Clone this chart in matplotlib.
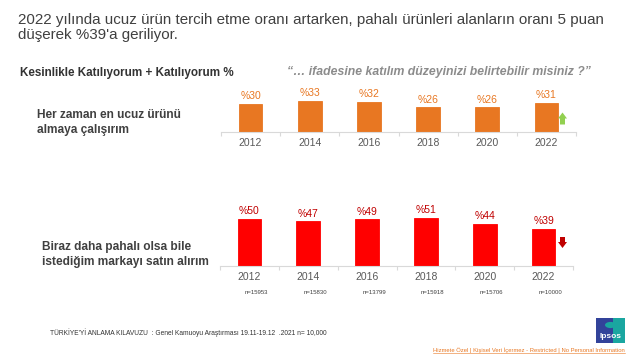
import matplotlib
matplotlib.use("Agg")
import matplotlib.pyplot as plt
from matplotlib.patches import Polygon, Rectangle, Circle
from matplotlib.lines import Line2D

plt.rcParams["font.family"] = ["Liberation Sans", "DejaVu Sans"]

# ---------- data ----------
yillar = ["2012", "2014", "2016", "2018", "2020", "2022"]
ucuz = [30, 33, 32, 26, 26, 31]
pahali = [50, 47, 49, 51, 44, 39]
n_etiket = ["n=15953", "n=15830", "n=13799", "n=15918", "n=15706", "n=10000"]

TURUNCU = "#E87722"
KIRMIZI = "#FF0000"
KOYU_KIRMIZI = "#C00000"
YESIL = "#92D050"
GRI_YAZI = "#404040"
GRI_CIZGI = "#D9D9D9"

W, H = 640, 360


def fx(px):
    return px / W


def fy(py):
    return 1 - py / H


fig = plt.figure(figsize=(6.4, 3.6), dpi=100)
fig.patch.set_facecolor("white")


def bar_panel(left, right, base, values, color, lab_color, lab_weight):
    ax = fig.add_axes([fx(left), fy(base), fx(right - left), 57 / H])
    x = list(range(len(values)))
    ax.bar(x, values, width=0.4, color=color, edgecolor=color, linewidth=0.6)
    for i, v in enumerate(values):
        ax.annotate(f"%{v}", (i, v), xytext=(0, 2), textcoords="offset points",
                    ha="center", va="bottom", fontsize=7.5, color=lab_color,
                    fontweight=lab_weight)
    ax.set_xlim(-0.5, len(values) - 0.5)
    ax.set_ylim(0, 60)
    ax.set_yticks([])
    ax.set_xticks(x)
    ax.set_xticklabels(yillar, fontsize=7.5, color="#595959")
    ax.tick_params(axis="x", which="major", length=0, pad=4)
    ax.set_xticks([i - 0.5 for i in range(len(values) + 1)], minor=True)
    ax.tick_params(axis="x", which="minor", length=3, color=GRI_CIZGI, width=0.8)
    for s in ["top", "left", "right"]:
        ax.spines[s].set_visible(False)
    ax.spines["bottom"].set_color(GRI_CIZGI)
    ax.spines["bottom"].set_linewidth(0.8)
    ax.set_facecolor("none")
    return ax


ax1 = bar_panel(221, 576, 132, ucuz, TURUNCU, TURUNCU, "normal")
ax2 = bar_panel(220, 573, 266, pahali, KIRMIZI, KOYU_KIRMIZI, "normal")

for i, t in enumerate(n_etiket):
    ax2.annotate(t, (i, 0), xycoords=("data", "axes fraction"), xytext=(5, -19),
                 textcoords="offset points", ha="center", va="center",
                 fontsize=4.3, color="#404040")

# ---------- title & headers ----------
fig.text(fx(18), fy(20), "2022 yılında ucuz ürün tercih etme oranı artarken, pahalı ürünleri alanların oranı 5 puan",
         fontsize=10.9, color=GRI_YAZI, va="center")
fig.text(fx(18), fy(35), "düşerek %39'a geriliyor.", fontsize=10.9, color=GRI_YAZI, va="center")
fig.text(fx(20), fy(73), "Kesinlikle Katılıyorum + Katılıyorum %", fontsize=8.4,
         fontweight="bold", color="#333333", va="center")
fig.text(fx(287), fy(72), "\u201c\u2026 ifadesine katılım düzeyinizi belirtebilir misiniz ?\u201d",
         fontsize=8.8, fontweight="bold", style="italic", color="#8C8C8C", va="center")

fig.text(fx(37), fy(115), "Her zaman en ucuz ürünü", fontsize=8.6, fontweight="bold",
         color=GRI_YAZI, va="center")
fig.text(fx(37), fy(130), "almaya çalışırım", fontsize=8.6, fontweight="bold",
         color=GRI_YAZI, va="center")
fig.text(fx(42), fy(247), "Biraz daha pahalı olsa bile", fontsize=8.6, fontweight="bold",
         color=GRI_YAZI, va="center")
fig.text(fx(42), fy(262), "istediğim markayı satın alırım", fontsize=8.6, fontweight="bold",
         color=GRI_YAZI, va="center")

# ---------- trend arrows ----------
up = [(558, 118.5), (562.5, 112.5), (567, 118.5), (565, 118.5), (565, 124.5),
      (560, 124.5), (560, 118.5)]
down = [(558, 242), (562.5, 248), (567, 242), (565, 242), (565, 237),
        (560, 237), (560, 242)]
fig.patches.append(Polygon([(fx(a), fy(b)) for a, b in up], closed=True,
                           transform=fig.transFigure, color=YESIL, lw=0))
fig.patches.append(Polygon([(fx(a), fy(b)) for a, b in down], closed=True,
                           transform=fig.transFigure, color=KOYU_KIRMIZI, lw=0))

# ---------- footer ----------
fig.text(fx(50), fy(333), "TÜRKİYE'Yİ ANLAMA KILAVUZU  : Genel Kamuoyu Araştırması 19.11-19.12  .2021 n= 10,000",
         fontsize=4.8, color="#333333", va="center")
alt = fig.text(fx(625), fy(350), "Hizmete Özel | Kişisel Veri İçermez - Restricted | No Personal Information",
               fontsize=4.2, color=TURUNCU, va="center", ha="right")
fig.canvas.draw()
bb = alt.get_window_extent(fig.canvas.get_renderer())
fig.lines.append(Line2D([bb.x0 / W, bb.x1 / W], [(bb.y0 + 0.3) / H] * 2,
                        transform=fig.transFigure, color=TURUNCU, lw=0.4))

# Ipsos logo
fig.patches.append(Rectangle((fx(596), fy(343)), fx(29), 25 / H, transform=fig.transFigure,
                             color="#32439A", lw=0))
fig.patches.append(Rectangle((fx(613), fy(343)), fx(12), 25 / H, transform=fig.transFigure,
                             color="#1AA6A0", lw=0))
fig.patches.append(Circle((fx(610.5), fy(325)), 5.5 / W, transform=fig.transFigure,
                          color="#1AA6A0", lw=0))
fig.text(fx(610.5), fy(337), "Ipsos", fontsize=6, fontweight="bold", color="white",
         ha="center", va="center")

fig.savefig("out.png", dpi=100)
